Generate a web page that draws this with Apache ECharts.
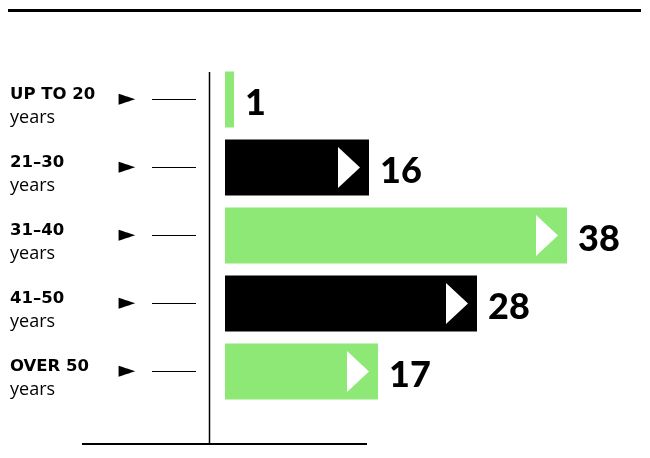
<!DOCTYPE html>
<html>
<head>
<meta charset="utf-8">
<script src="https://cdn.jsdelivr.net/npm/echarts@6/dist/echarts.min.js"></script>
<style>html,body{margin:0;padding:0;background:#fff;}#c{width:650px;height:458px;}</style>
</head>
<body>
<div id="c"></div>
<script>
// Data
var groupLabels = ['UP TO 20', '21–30', '31–40', '41–50', 'OVER 50'];
var groupUnits = ['years', 'years', 'years', 'years', 'years'];
var values = [1, 16, 38, 28, 17];
var showMarker = [false, true, true, true, true];

var GREEN = '#8de876';
var BLACK = '#000000';

var categories = groupLabels.map(function (g, i) { return g + '|' + groupUnits[i]; });

var barData = values.map(function (v, i) {
  return { value: v, itemStyle: { color: i % 2 === 0 ? GREEN : BLACK } };
});
var markerData = values.map(function (v, i) {
  return showMarker[i] ? [v, categories[i]] : null;
}).filter(function (d) { return d; });

var chart = echarts.init(document.getElementById('c'), null, { renderer: 'canvas' });
chart.setOption({
  animation: false,
  backgroundColor: '#ffffff',
  grid: { left: 225, right: 65, top: 65.5, bottom: 52.5, containLabel: false },
  xAxis: {
    type: 'value', min: 0, max: 40,
    axisLine: { show: false }, axisTick: { show: false },
    axisLabel: { show: false }, splitLine: { show: false }
  },
  yAxis: [{
    type: 'category', data: categories, inverse: true,
    offset: 29,
    axisLine: { show: false },
    axisTick: { show: false },
    axisLabel: {
      align: 'left', margin: 186, padding: [13, 0, 0, 0],
      formatter: function (val) {
        var p = val.split('|');
        return '{b|' + p[0] + '}\n{r|' + p[1] + '}';
      },
      rich: {
        b: { fontFamily: 'DejaVu Sans', fontWeight: 'bold', fontSize: 16.5, color: '#000', lineHeight: 23 },
        r: { fontFamily: 'Open Sans', fontSize: 18, color: '#000', lineHeight: 23 }
      }
    },
    splitLine: { show: false }
  }, {
    type: 'category', data: categories, inverse: true,
    position: 'left', offset: 29,
    axisLine: { show: false }, axisTick: { show: false },
    axisLabel: {
      formatter: function () { return '{a|►}{g|}{ln|}'; },
      align: 'right', margin: 0,
      rich: {
        a: { fontFamily: 'DejaVu Sans', fontSize: 22, color: '#000', width: 14, align: 'center' },
        g: { width: 18, height: 1 },
        ln: { width: 44, height: 1, backgroundColor: '#000' }
      }
    },
    splitLine: { show: false }
  }],
  series: [{
    type: 'bar', yAxisIndex: 0, data: barData, barWidth: 56,
    label: {
      show: true, position: 'right', distance: 11, offset: [0, 4],
      fontFamily: 'Lato', fontWeight: 900, fontSize: 36, color: '#000'
    }
  }, {
    type: 'scatter', yAxisIndex: 0, data: markerData,
    symbol: 'path://M0,0L10,5L0,10Z', symbolSize: [22, 41], symbolOffset: [-20, 0],
    itemStyle: { color: '#ffffff', opacity: 1 }, z: 5
  }],
  graphic: [
    { type: 'line', shape: { x1: 8, y1: 10.5, x2: 641, y2: 10.5 }, style: { stroke: '#000', lineWidth: 3 } },
    { type: 'line', shape: { x1: 209.5, y1: 72, x2: 209.5, y2: 444 }, style: { stroke: '#000', lineWidth: 1.5 } },
    { type: 'line', shape: { x1: 82, y1: 444, x2: 367, y2: 444 }, style: { stroke: '#000', lineWidth: 2 } }
  ]
});
</script>
</body>
</html>
